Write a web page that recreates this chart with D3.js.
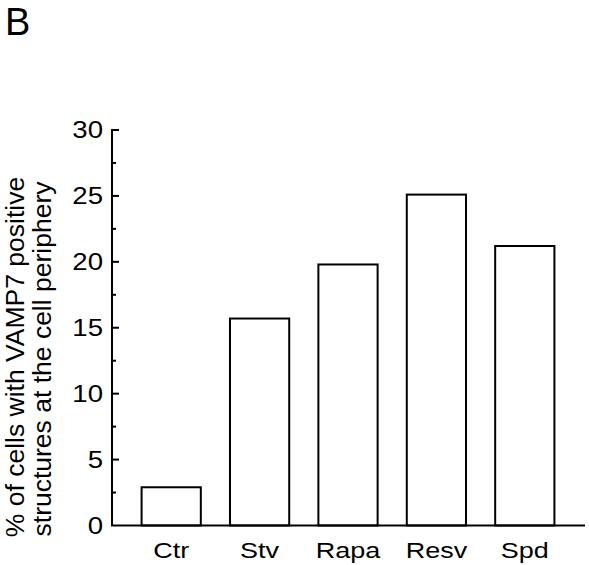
<!DOCTYPE html>
<html>
<head>
<meta charset="utf-8">
<script src="https://cdn.jsdelivr.net/npm/d3@7"></script>
<style>
  body { margin: 0; background: #fff; }
  svg text { font-family: "Liberation Sans", Arial, sans-serif; fill: #000; }
</style>
</head>
<body>
<svg id="chart" width="589" height="565"></svg>
<script>
var categories = ["Ctr", "Stv", "Rapa", "Resv", "Spd"];
var values = [2.9, 15.7, 19.8, 25.1, 21.2];
var majorTicks = [0, 5, 10, 15, 20, 25, 30];
var minorTicks = [2.5, 7.5, 12.5, 17.5, 22.5, 27.5];
var yLabelLines = ["% of cells with VAMP7 positive", "structures at the cell periphery"];

var svg = d3.select("#chart");
var x0 = 112, x1 = 585, yTop = 130, yBase = 525.5;

var x = d3.scaleBand()
  .domain(categories)
  .range([127, 569])
  .paddingInner(0.33)
  .paddingOuter(0.165);

var y = d3.scaleLinear()
  .domain([0, 30])
  .range([yBase, yTop]);

// panel letter
svg.append("text")
   .text("B")
   .attr("x", 5)
   .attr("y", 35)
   .style("font-size", "38px");

// bars
svg.selectAll("rect.bar")
   .data(values)
   .enter().append("rect")
   .attr("class", "bar")
   .attr("x", function(d, i) { return x(categories[i]); })
   .attr("width", x.bandwidth())
   .attr("y", function(d) { return y(d); })
   .attr("height", function(d) { return yBase - y(d); })
   .attr("fill", "#fff")
   .attr("stroke", "#000")
   .attr("stroke-width", 2);

// y axis line
svg.append("line")
   .attr("x1", x0).attr("x2", x0)
   .attr("y1", y(30) - 1).attr("y2", yBase)
   .attr("stroke", "#000").attr("stroke-width", 2);

// x axis line
svg.append("line")
   .attr("x1", x0 - 1).attr("x2", x1)
   .attr("y1", yBase).attr("y2", yBase)
   .attr("stroke", "#000").attr("stroke-width", 2);

// ticks (pointing inward)
svg.selectAll("line.major")
   .data(majorTicks.filter(function(t) { return t > 0; }))
   .enter().append("line")
   .attr("x1", x0).attr("x2", x0 + 7)
   .attr("y1", function(d) { return y(d); })
   .attr("y2", function(d) { return y(d); })
   .attr("stroke", "#000").attr("stroke-width", 2);

svg.selectAll("line.minor")
   .data(minorTicks)
   .enter().append("line")
   .attr("x1", x0).attr("x2", x0 + 4)
   .attr("y1", function(d) { return y(d); })
   .attr("y2", function(d) { return y(d); })
   .attr("stroke", "#000").attr("stroke-width", 2);

// tick labels (the original type is slightly wide)
svg.selectAll("text.ytick")
   .data(majorTicks)
   .enter().append("text")
   .attr("transform", function(d) { return "translate(103," + y(d) + ") scale(1.2,1)"; })
   .attr("dy", "0.36em")
   .attr("text-anchor", "end")
   .style("font-size", "23px")
   .text(function(d) { return d; });

svg.selectAll("text.xtick")
   .data(categories)
   .enter().append("text")
   .attr("transform", function(d) { return "translate(" + (x(d) + x.bandwidth() / 2) + ",558) scale(1.2,1)"; })
   .attr("text-anchor", "middle")
   .style("font-size", "22.5px")
   .text(function(d) { return d; });

// y axis label
svg.append("text")
   .attr("transform", "translate(24,357) rotate(-90)")
   .attr("text-anchor", "middle")
   .style("font-size", "26.5px")
   .text(yLabelLines[0]);
svg.append("text")
   .attr("transform", "translate(51,359) rotate(-90)")
   .attr("text-anchor", "middle")
   .style("font-size", "26.5px")
   .text(yLabelLines[1]);
</script>
</body>
</html>
